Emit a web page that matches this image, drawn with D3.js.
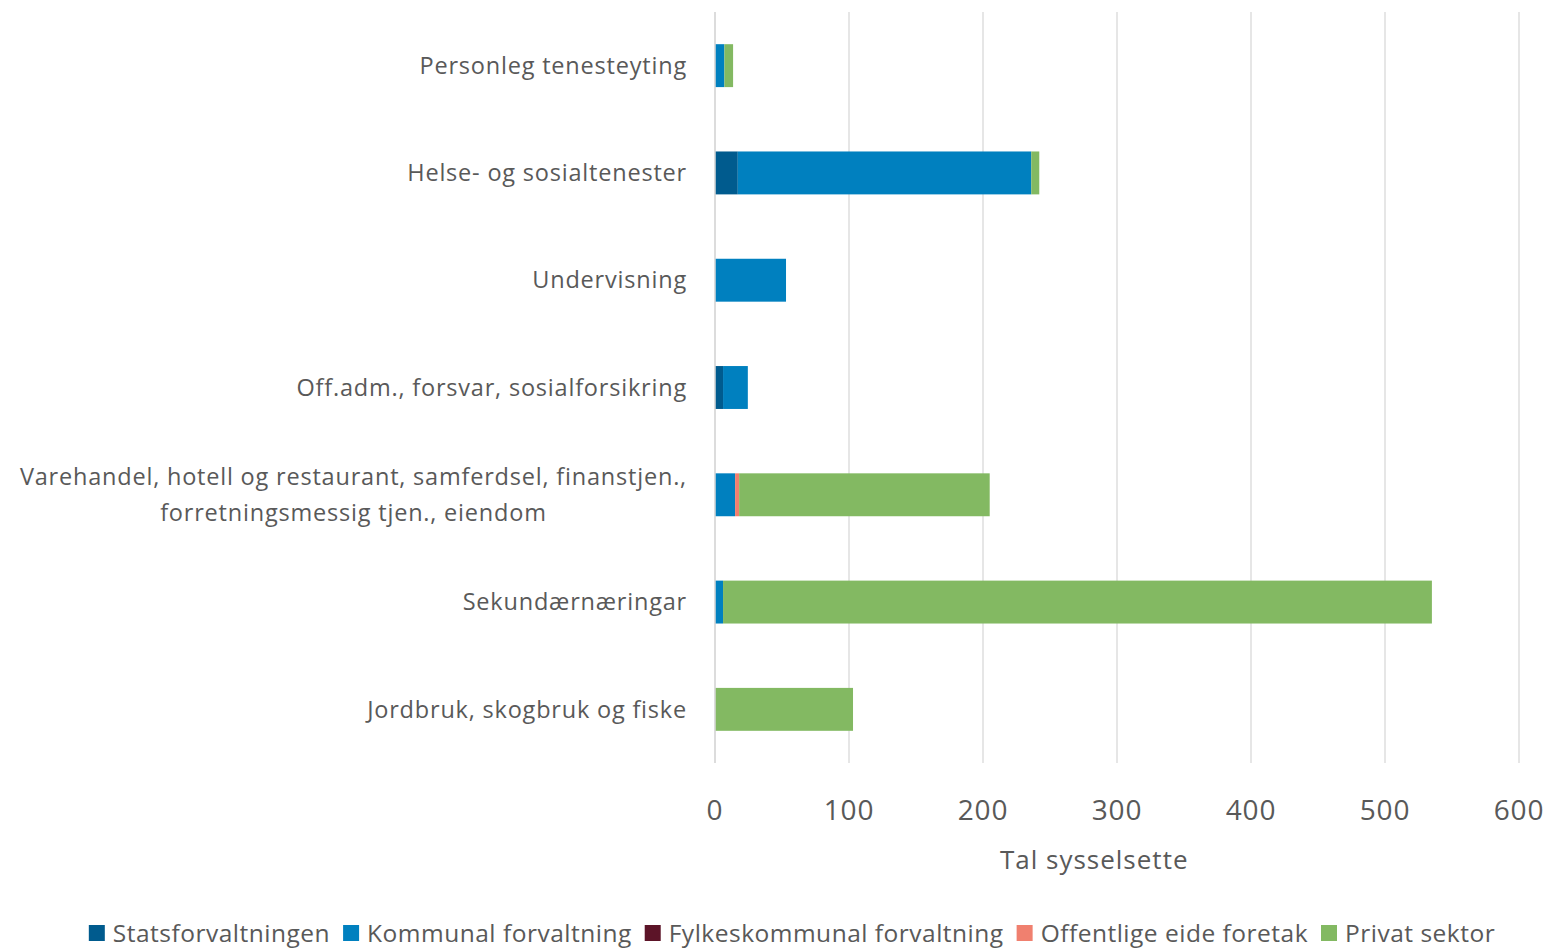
<!DOCTYPE html>
<html>
<head>
<meta charset="utf-8">
<style>
  body { margin: 0; padding: 0; background: #fff; }
  svg { display: block; font-family: "Open Sans", "Noto Sans", sans-serif; }
  .grid line { stroke: #d9d9d9; stroke-width: 1.3px; }
</style>
<script src="https://d3js.org/d3.v7.min.js"></script>
</head>
<body>
<script>
// data
var categories = [
  "Personleg tenesteyting",
  "Helse- og sosialtenester",
  "Undervisning",
  "Off.adm., forsvar, sosialforsikring",
  "Varehandel, hotell og restaurant, samferdsel, finanstjen.,|forretningsmessig tjen., eiendom",
  "Sekundærnæringar",
  "Jordbruk, skogbruk og fiske"
];
var seriesNames = ["Statsforvaltningen", "Kommunal forvaltning", "Fylkeskommunal forvaltning", "Offentlige eide foretak", "Privat sektor"];
var seriesColors = ["#005b8e", "#0080bf", "#5c1428", "#f0806f", "#83b962"];
var statsforvaltningen = [0, 17, 0, 6, 0, 0, 0];
var kommunal = [7, 219, 53, 18.5, 15, 6, 0];
var fylkeskommunal = [0, 0, 0, 0, 0, 0, 0];
var offentligeEide = [0, 0, 0, 0, 3, 0, 0];
var privat = [6.5, 6, 0, 0, 187, 529, 103];
var xTicks = [0, 100, 200, 300, 400, 500, 600];
var xTitle = "Tal sysselsette";

var W = 1552, H = 950;
var svg = d3.select("body").append("svg").attr("width", W).attr("height", H);

var x = d3.scaleLinear().domain([0, 600]).range([715, 1519]);
var y = d3.scaleBand().domain(categories).range([12, 763]).paddingInner(0.6).paddingOuter(0.3);

// gridlines
svg.append("g").attr("class", "grid").selectAll("line").data(xTicks).enter().append("line")
  .attr("x1", function(d){ return x(d); }).attr("x2", function(d){ return x(d); })
  .attr("y1", 12).attr("y2", 763);

// stacked bars
var rows = categories.map(function(c, i){
  return { cat: c, s0: statsforvaltningen[i], s1: kommunal[i], s2: fylkeskommunal[i], s3: offentligeEide[i], s4: privat[i] };
});
var stack = d3.stack().keys(["s0", "s1", "s2", "s3", "s4"])(rows);
svg.append("g").selectAll("g").data(stack).enter().append("g")
  .attr("fill", function(d, i){ return seriesColors[i]; })
  .selectAll("rect").data(function(d){ return d; }).enter().append("rect")
  .attr("x", function(d){ return x(d[0]); })
  .attr("width", function(d){ return Math.max(0, x(d[1]) - x(d[0])); })
  .attr("y", function(d){ return y(d.data.cat); })
  .attr("height", y.bandwidth());

// axis at zero
svg.append("line").attr("x1", x(0)).attr("x2", x(0)).attr("y1", 12).attr("y2", 763)
  .attr("stroke", "#d9d9d9").attr("stroke-width", 1.5);

// category labels
var labG = svg.append("g");
categories.forEach(function(c){
  var lines = c.split("|");
  var cy = y(c) + y.bandwidth() / 2;
  var lh = 36;
  var t = labG.append("text").attr("fill", "#595959").attr("font-size", 23.5)
    .attr("letter-spacing", 0.8);
  lines.forEach(function(l, k){
    t.append("tspan").text(l).attr("y", cy + (k - (lines.length - 1) / 2) * lh).attr("dy", "0.35em");
  });
  if (lines.length === 1) {
    t.attr("text-anchor", "end").selectAll("tspan").attr("x", 687);
  } else {
    var maxW = 0;
    t.selectAll("tspan").each(function(){ maxW = Math.max(maxW, this.getComputedTextLength()); });
    t.attr("text-anchor", "middle").selectAll("tspan").attr("x", 687 - maxW / 2);
  }
});

// x tick labels
svg.append("g").selectAll("text").data(xTicks).enter().append("text")
  .attr("x", function(d){ return x(d); }).attr("y", 810).attr("dy", "0.35em")
  .attr("text-anchor", "middle").attr("fill", "#595959").attr("font-size", 28)
  .attr("letter-spacing", 0.8)
  .text(function(d){ return d; });

svg.append("text").attr("x", x(283)).attr("y", 860).attr("dy", "0.35em")
  .attr("text-anchor", "middle").attr("fill", "#595959").attr("font-size", 26)
  .attr("letter-spacing", 1)
  .text(xTitle);

// legend
var leg = svg.append("g");
var lx = 0;
seriesNames.forEach(function(n, i){
  var g = leg.append("g").attr("transform", "translate(" + lx + ",0)");
  g.append("rect").attr("x", 0).attr("y", -8).attr("width", 16).attr("height", 16).attr("fill", seriesColors[i]);
  var t = g.append("text").attr("x", 24).attr("y", 0).attr("dy", "0.35em")
    .attr("fill", "#595959").attr("font-size", 24.5).attr("letter-spacing", 0.5).text(n);
  lx += 24 + t.node().getComputedTextLength() + 13;
});
var totalW = lx - 13;
leg.attr("transform", "translate(" + (792 - totalW / 2) + ",933)");
</script>
</body>
</html>
